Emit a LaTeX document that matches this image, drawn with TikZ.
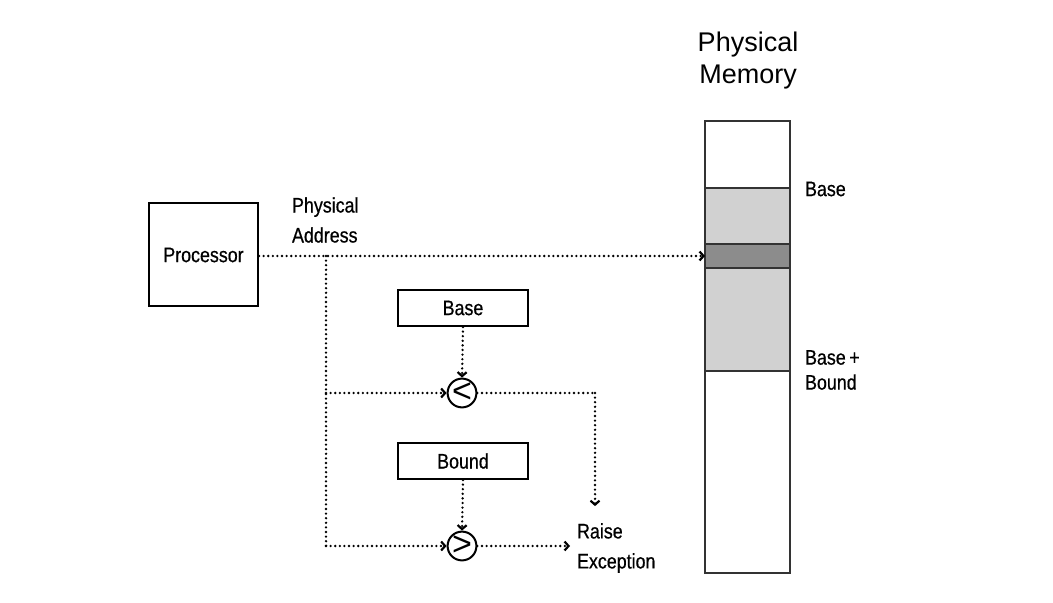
\documentclass[tikz,border=0pt]{standalone}
\usepackage{fontspec}
\setmainfont{Liberation Sans}
\newfontfamily\narrowfont[FakeStretch=0.85,FakeBold=0.6]{Liberation Sans}
\usetikzlibrary{arrows.meta}

\begin{document}
\begin{tikzpicture}
  [x=0.5pt,y=-0.5pt,
   every node/.style={font=\narrowfont\fontsize{10.5}{15}\selectfont},
   box/.style={draw,line width=1pt,inner sep=0pt},
   cmp/.style={draw,circle,line width=1pt,minimum size=14pt,inner sep=0pt,
     font=\fontsize{17}{17}\selectfont},
   mem/.style={draw=black!80,line width=1pt,minimum width=42.5pt,inner sep=0pt,outer sep=0pt},
   link/.style={line width=1.3pt,line cap=round,dash pattern=on 0pt off 2.3pt},
   arr/.style={link,-{Straight Barb[length=2pt,width=4.5pt,line width=1.1pt]}}]
  \useasboundingbox (0,0) rectangle (1053,603);

  \node[box,minimum width=54.5pt,minimum height=51.5pt] (proc) at (203.5,255) {Processor};
  \node[anchor=west,align=left] (paddr) at (285,220) {Physical\\Address};
  \node[box,minimum width=65pt,minimum height=18pt] (base)  at (463,308) {Base};
  \node[box,minimum width=65pt,minimum height=18pt] (bound) at (463,461) {Bound};
  \node[cmp] (lt) at (462,393) {\raisebox{0.5pt}{<}};
  \node[cmp] (gt) at (462,546) {\raisebox{0.5pt}{>}};
  \node[anchor=west,align=left] (raise) at (570,548) {Raise\\Exception};

  % physical memory column
  \node[mem,minimum height=33.5pt] (mtop)  at (747.5,154.5) {};
  \node[mem,minimum height=28pt,fill=black!18] (mlo) at (747.5,216) {};
  \node[mem,minimum height=12pt,fill=black!45] (mcell) at (747.5,256) {};
  \node[mem,minimum height=51.5pt,fill=black!18] (mhi) at (747.5,319.5) {};
  \node[mem,minimum height=101pt] (mbot) at (747.5,472) {};
  \node[font=\fontsize{13.5}{16}\selectfont,align=center] (mtitle) at (748,61) {Physical\\Memory};
  \node[anchor=west] (lbase) at (798,189) {Base};
  \node[anchor=west,align=left,font=\narrowfont\fontsize{10.5}{12.5}\selectfont] (lbound) at (798,370) {Base\,+\\Bound};

  \coordinate (br1) at (326,256);
  \coordinate (br2) at (326,393);
  \coordinate (br3) at (326,546);
  \coordinate (turn) at (595,393);

  \draw[arr] (proc.east |- br1) -- (mcell.west);
  \draw[link] (br1) -- (br3);
  \foreach \from/\to in {br2/lt,br3/gt}
    \draw[arr] (\from) -- (\to.west);
  \foreach \from/\to in {base/lt,bound/gt}
    \draw[arr] (\from.south) -- (\to.north);
  \draw[link] (lt.east) -- (turn);
  \draw[arr] (turn) -- ([yshift=5]turn |- raise.north);
  \draw[arr] (gt.east) -- (gt.east -| raise.west);
\end{tikzpicture}
\end{document}
